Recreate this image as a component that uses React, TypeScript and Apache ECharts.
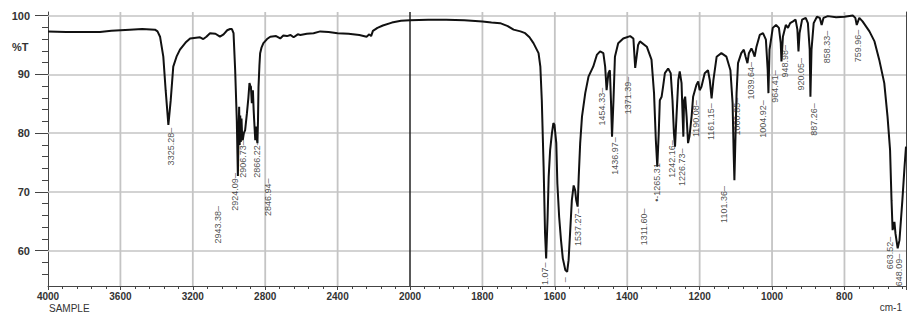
import React, { useEffect, useRef } from "react";
import * as echarts from "echarts";

// Spectrum: wavenumber (cm-1) and transmittance (%T)
const wavenumbers = [
  4000, 3900, 3800, 3713, 3650, 3548, 3480, 3409, 3395, 3381, 3363, 3350, 3335, 3322, 3308, 3290, 3271, 3240, 3215,
  3160, 3142, 3125, 3105, 3075, 3050, 3030, 3010, 2994, 2984, 2975, 2966, 2957, 2951, 2947, 2944, 2941, 2938, 2935,
  2931, 2927, 2924, 2918, 2911, 2901, 2893, 2887, 2882, 2879, 2874, 2868, 2864, 2861, 2855, 2850, 2846, 2843, 2840,
  2837, 2832, 2828, 2820, 2810, 2790, 2772, 2740, 2717, 2700, 2680, 2660, 2643, 2620, 2606, 2570, 2533, 2496, 2450,
  2400, 2340, 2280, 2240, 2225, 2215, 2205, 2180, 2150, 2100, 2050, 2000, 1950, 1900, 1850, 1800, 1775, 1751, 1730,
  1714, 1695, 1682, 1670, 1659, 1645, 1640, 1636, 1631, 1627, 1624, 1620, 1617, 1613, 1608, 1604, 1601, 1596, 1593,
  1588, 1583, 1578, 1571, 1566, 1562, 1558, 1553, 1548, 1544, 1541, 1537, 1534, 1530, 1525, 1516, 1507, 1494, 1484,
  1475, 1466, 1461, 1457, 1452, 1448, 1445, 1442, 1438, 1434, 1425, 1411, 1392, 1383, 1378, 1370, 1365, 1346, 1333,
  1326, 1321, 1317, 1313, 1310, 1305, 1301, 1296, 1287, 1280, 1275, 1271, 1268, 1264, 1259, 1255, 1250, 1247, 1245,
  1243, 1240, 1236, 1232, 1228, 1222, 1218, 1209, 1204, 1200, 1195, 1186, 1177, 1172, 1167, 1162, 1153, 1140, 1126,
  1115, 1109, 1106, 1104, 1101, 1098, 1094, 1085, 1078, 1073, 1068, 1064, 1057, 1053, 1048, 1043, 1034, 1025, 1017,
  1012, 1010, 1007, 998, 989, 981, 976, 974, 970, 962, 956, 950, 942, 935, 930, 927, 924, 917, 907, 901, 896, 894,
  891, 885, 876, 868, 863, 858, 846, 823, 800, 777, 770, 766, 759, 750, 731, 717, 704, 690, 681, 674, 670, 667, 662,
  659, 653, 648, 640, 634, 630,
];
const transmittance = [
  97.3, 97.2, 97.2, 97.2, 97.4, 97.6, 97.7, 97.6, 97.3, 96.4, 93.0, 87.3, 81.4, 85.6, 91.3, 93.0, 94.2, 95.4, 96.1,
  96.3, 96.0, 96.4, 97.0, 96.9, 96.4, 96.8, 97.5, 97.7, 97.7, 97.0, 90.7, 82.2, 72.7, 80.0, 84.5, 78.0, 83.0, 78.5,
  82.5, 79.0, 78.8, 80.0, 80.5, 83.4, 86.0, 88.5, 88.0, 87.9, 85.1, 87.3, 84.0, 82.2, 78.8, 81.1, 79.0, 78.3, 82.0,
  87.9, 91.5, 93.6, 94.6, 95.3, 96.0, 96.4, 96.5, 96.1, 96.6, 96.5, 96.7, 96.3, 96.8, 96.7, 96.9, 97.0, 97.3, 97.2,
  97.0, 96.9, 96.7, 96.4, 96.8, 96.5, 97.4, 97.9, 98.3, 98.8, 99.1, 99.2, 99.3, 99.3, 99.2, 99.0, 98.8, 98.7, 98.2,
  97.6, 97.3, 97.0, 96.3, 95.3, 93.6, 91.3, 85.6, 74.3, 62.9, 58.7, 65.7, 72.6, 77.1, 80.0, 81.7, 81.4, 78.3, 71.4,
  65.7, 61.8, 58.7, 56.7, 56.4, 58.4, 62.9, 68.6, 71.1, 70.3, 68.6, 67.5, 72.6, 78.3, 82.8, 86.8, 89.6, 91.3, 93.3,
  93.9, 93.6, 91.3, 87.3, 90.2, 90.7, 85.6, 79.4, 85.6, 93.0, 95.3, 96.1, 96.5, 96.1, 91.1, 95.0, 95.6, 94.7, 92.5,
  86.8, 78.8, 74.3, 80.0, 85.6, 86.2, 87.9, 90.2, 91.0, 90.2, 85.6, 80.0, 77.7, 82.8, 89.0, 90.5, 88.5, 82.8, 79.4,
  85.6, 86.2, 82.8, 78.3, 79.5, 83.0, 86.2, 88.2, 88.8, 87.3, 87.9, 90.2, 90.7, 89.0, 85.9, 89.0, 93.0, 93.6, 93.0,
  90.7, 85.1, 76.5, 72.0, 79.4, 86.8, 91.9, 93.6, 94.2, 93.0, 91.9, 93.6, 94.4, 93.9, 93.0, 94.7, 96.7, 97.0, 95.9,
  90.7, 86.8, 94.2, 97.9, 98.4, 97.9, 95.3, 92.2, 96.4, 98.4, 97.9, 98.7, 99.0, 99.3, 97.6, 93.9, 97.0, 99.3, 99.6,
  98.7, 94.2, 86.2, 94.2, 98.7, 99.8, 99.6, 98.4, 99.6, 99.9, 99.7, 99.8, 100.0, 99.6, 98.4, 99.6, 99.0, 97.3, 95.6,
  92.5, 88.5, 82.8, 77.1, 68.6, 63.5, 64.9, 62.9, 60.4, 61.8, 68.6, 74.3, 77.7,
];

// Peak annotations: text, and where the top of each text sits (wavenumber, %T)
const peakLabels = [
  "3325.28–", "2943.38–", "2924.09–", "2906.73–", "2866.22–", "2846.94–", "1.07–", "–", "1537.27–", "1454.33–",
  "1436.97–", "1371.39–", "1311.60–", "•-1265.31", "1242.16–", "1226.73–", "1190.08–", "1161.15–", "1101.36–",
  "1060.85–", "1039.64–", "1004.92–", "964.41–", "948.98–", "920.05–", "887.26–", "858.33–", "759.96–", "663.52–",
  "648.09–",
];
const peakLabelWavenumbers = [
  3320, 3061, 2967, 2924, 2844, 2783, 1627, 1572, 1536, 1470, 1434, 1397, 1355, 1319, 1276, 1249, 1210, 1168, 1133,
  1097, 1058, 1025, 992, 964, 920, 884, 848, 762, 674, 649,
];
const peakLabelT = [
  80.9, 67.6, 73.2, 78.8, 78.8, 72.3, 58.0, 55.5, 67.2, 87.7, 79.3, 89.6, 67.2, 74.9, 78.8, 77.4, 85.6, 85.1, 71.0,
  86.0, 92.1, 85.6, 90.7, 95.0, 92.8, 85.1, 97.4, 97.6, 62.4, 59.5,
];

const xTickLabels = [4000, 3600, 3200, 2800, 2400, 2000, 1800, 1600, 1400, 1200, 1000, 800];
const yTickLabels = [60, 70, 80, 90, 100];
const yMinorTicks = [56, 58, 62, 64, 66, 68, 72, 74, 76, 78, 82, 84, 86, 88, 92, 94, 96, 98];

// Axis is compressed 2x above 2000 cm-1
function toU(w: number) {
  return w >= 2000 ? (4000 - w) / 2 : 1000 + (2000 - w);
}
function fromU(u: number) {
  return u <= 1000 ? 4000 - 2 * u : 2000 - (u - 1000);
}

const Y_MIN = 54;
const Y_MAX = 100.6;

export default function App() {
  const ref = useRef<HTMLDivElement>(null);
  useEffect(() => {
    if (!ref.current) return;
    const chart = echarts.init(ref.current, null, { renderer: "svg" });
    const axisColor = "#444";
    const gridColor = "#c4c4c4";
    const labelFont = "Arial, 'Liberation Sans', sans-serif";
    const hLines: any[] = yTickLabels.map((v) => ({
      yAxis: v,
      lineStyle: { color: gridColor, width: 1.6, type: "solid" },
    }));
    const textGraphics: any[] = [
      {
        id: "pctT",
        type: "text",
        left: 12,
        top: 41,
        style: { text: "%T", font: "bold 11px Arial, 'Liberation Sans', sans-serif", fill: "#333" },
      },
      {
        id: "sample",
        type: "text",
        left: 49,
        top: 303,
        style: { text: "SAMPLE", font: "10px Arial, 'Liberation Sans', sans-serif", fill: "#333" },
      },
      {
        id: "unit",
        type: "text",
        right: 18,
        top: 302,
        style: { text: "cm-1", font: "10px Arial, 'Liberation Sans', sans-serif", fill: "#333" },
      },
    ];
    chart.setOption({
      animation: false,
      grid: { left: 48, right: 14, top: 12, bottom: 34 },
      xAxis: {
        type: "value",
        min: 0,
        max: 2370,
        interval: 200,
        axisLine: { show: true, lineStyle: { color: axisColor, width: 1 } },
        axisTick: { show: true, length: 4, lineStyle: { color: axisColor } },
        minorTick: { show: true, splitNumber: 5, length: 3, lineStyle: { color: axisColor } },
        splitLine: { show: false },
        axisLabel: {
          margin: 5,
          fontSize: 10,
          fontWeight: "bold",
          color: "#333",
          fontFamily: labelFont,
          formatter: (v: number) => {
            const w = Math.round(fromU(v));
            return xTickLabels.indexOf(w) >= 0 ? String(w) : "";
          },
        },
      },
      yAxis: [
        {
          type: "value",
          min: Y_MIN,
          max: Y_MAX,
          position: "left",
          axisLine: { show: true, lineStyle: { color: axisColor } },
          axisTick: { show: true, length: 6, customValues: yMinorTicks, lineStyle: { color: axisColor } },
          splitLine: { show: false },
          axisLabel: {
            customValues: yTickLabels,
            margin: 18,
            fontSize: 11,
            fontWeight: "bold",
            color: "#333",
            fontFamily: labelFont,
          },
        },
        {
          type: "value",
          min: Y_MIN,
          max: Y_MAX,
          position: "left",
          axisLine: { show: false },
          axisTick: { show: true, length: 13, customValues: yTickLabels, lineStyle: { color: axisColor } },
          axisLabel: { show: false },
          splitLine: { show: false },
        },
        {
          type: "value",
          min: Y_MIN,
          max: Y_MAX,
          position: "right",
          axisLine: { show: true, lineStyle: { color: axisColor } },
          axisTick: { show: false },
          axisLabel: { show: false },
          splitLine: { show: false },
        },
      ],
      graphic: textGraphics,
      series: [
        {
          type: "line",
          data: wavenumbers.map((w, i) => [toU(w), transmittance[i]]),
          symbol: "none",
          showSymbol: false,
          lineStyle: { color: "#111", width: 2 },
          silent: true,
          z: 3,
          markLine: {
            silent: true,
            symbol: "none",
            label: { show: false },
            z: 1,
            data: [...hLines, { xAxis: toU(2000), lineStyle: { color: "#222", width: 1.5, type: "solid" } }],
          },
        },
        {
          type: "scatter",
          data: peakLabels.map((t, i) => [toU(peakLabelWavenumbers[i]), peakLabelT[i], t]),
          symbolSize: 1,
          itemStyle: { color: "rgba(0,0,0,0)" },
          silent: true,
          z: 4,
          label: {
            show: true,
            position: "inside",
            rotate: 90,
            align: "right",
            verticalAlign: "middle",
            fontSize: 9,
            color: "#222",
            fontFamily: "Arial, 'Liberation Sans', sans-serif",
            formatter: (p: any) => p.data[2],
          },
        },
      ],
    });

    // Vertical grid lines, placed through the chart's own x and y scales
    const vGrid: any[] = xTickLabels
      .filter((w) => w !== 4000 && w !== 2000)
      .map((w, i) => {
        const top = chart.convertToPixel({ xAxisIndex: 0, yAxisIndex: 0 }, [toU(w), Y_MAX]) as number[];
        const bottom = chart.convertToPixel({ xAxisIndex: 0, yAxisIndex: 0 }, [toU(w), Y_MIN]) as number[];
        return {
          id: "vgrid" + i,
          type: "line",
          silent: true,
          z: 0,
          shape: { x1: top[0], y1: top[1], x2: bottom[0], y2: bottom[1] },
          style: { stroke: gridColor, lineWidth: 1.8 },
        };
      });
    chart.setOption({ graphic: [...textGraphics, ...vGrid] });

    return () => chart.dispose();
  }, []);
  return <div ref={ref} style={{ position: "absolute", left: 0, top: 0, width: 920, height: 320 }} />;
}
